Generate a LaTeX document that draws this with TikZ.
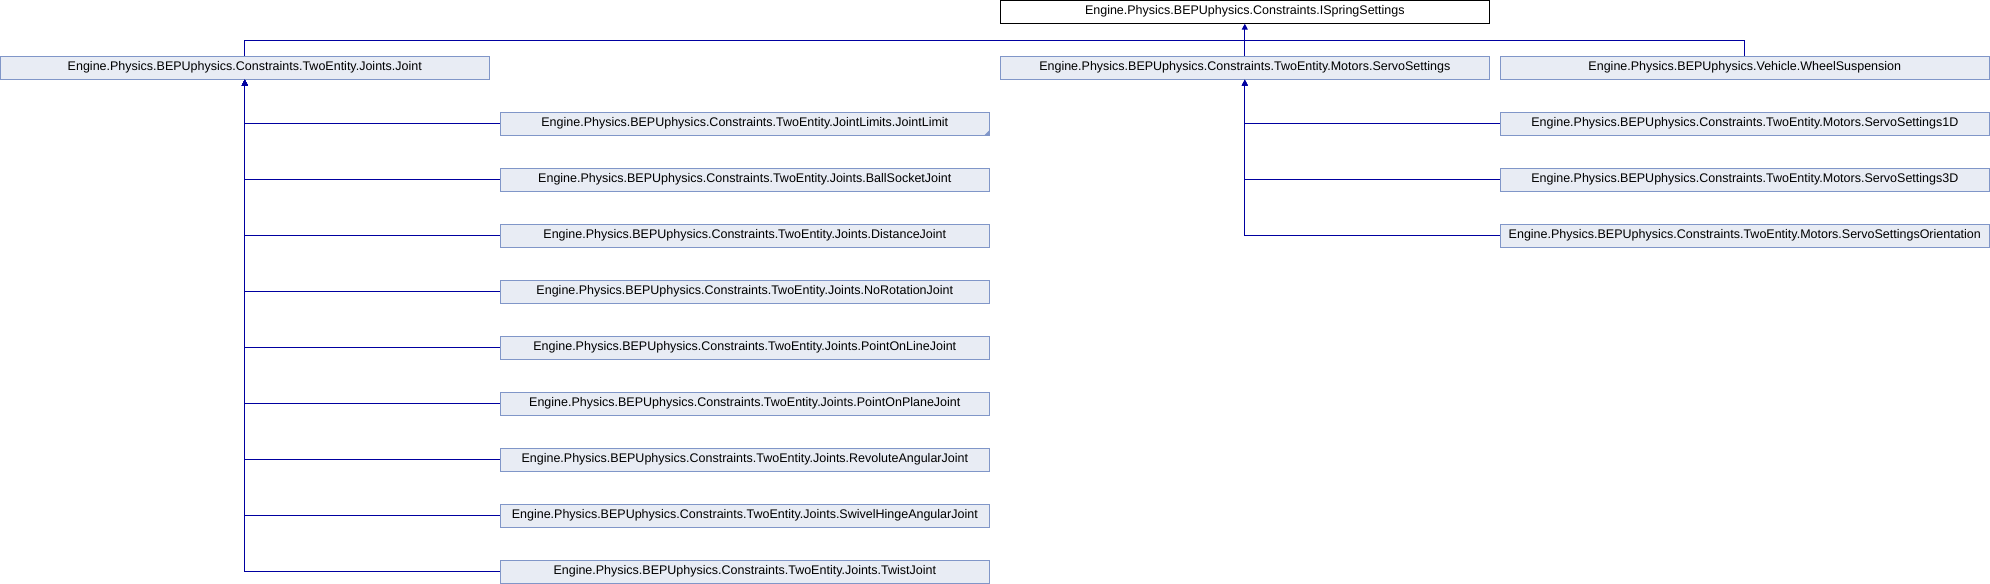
\documentclass[tikz,border=0pt]{standalone}
\usepackage{fontspec}
\setmainfont{Liberation Sans}
\usepackage{tikz}
\usetikzlibrary{arrows.meta, positioning}
\definecolor{boxfill}{RGB}{232,236,244}
\definecolor{boxline}{RGB}{128,150,200}
\definecolor{edgeblue}{RGB}{0,0,160}
\tikzstyle{current} = [rectangle, minimum width=489bp, minimum height=23bp, inner sep=0pt, text centered, draw=black, fill=white, line width=1bp, font=\fontsize{12.5bp}{15bp}\selectfont]
\tikzstyle{cls} = [rectangle, minimum width=489bp, minimum height=23bp, inner sep=0pt, text centered, draw=boxline, fill=boxfill, line width=1bp, font=\fontsize{12.5bp}{15bp}\selectfont]
\tikzstyle{arrow} = [draw=edgeblue, line width=1bp, -{Triangle[width=6bp,length=6bp]}]
\tikzstyle{line} = [draw=edgeblue, line width=1bp]

\begin{document}
\begin{tikzpicture}[x=1bp, y=1bp, node distance=56bp]
		\useasboundingbox (0,0) rectangle (1990,-584);
		\node (spring) [current] at (1244.8,-11.7) {Engine.Physics.BEPUphysics.Constraints.ISpringSettings};
		\node (servo) [cls, below of=spring] {Engine.Physics.BEPUphysics.Constraints.TwoEntity.Motors.ServoSettings};
		\node (joint) [cls, left of=servo, xshift=-944bp] {Engine.Physics.BEPUphysics.Constraints.TwoEntity.Joints.Joint};
		\node (wheel) [cls, right of=servo, xshift=444bp] {Engine.Physics.BEPUphysics.Vehicle.WheelSuspension};

		\node (j1) [cls, below of=joint, xshift=500bp] {Engine.Physics.BEPUphysics.Constraints.TwoEntity.JointLimits.JointLimit};
		\node (j2) [cls, below of=j1] {Engine.Physics.BEPUphysics.Constraints.TwoEntity.Joints.BallSocketJoint};
		\node (j3) [cls, below of=j2] {Engine.Physics.BEPUphysics.Constraints.TwoEntity.Joints.DistanceJoint};
		\node (j4) [cls, below of=j3] {Engine.Physics.BEPUphysics.Constraints.TwoEntity.Joints.NoRotationJoint};
		\node (j5) [cls, below of=j4] {Engine.Physics.BEPUphysics.Constraints.TwoEntity.Joints.PointOnLineJoint};
		\node (j6) [cls, below of=j5] {Engine.Physics.BEPUphysics.Constraints.TwoEntity.Joints.PointOnPlaneJoint};
		\node (j7) [cls, below of=j6] {Engine.Physics.BEPUphysics.Constraints.TwoEntity.Joints.RevoluteAngularJoint};
		\node (j8) [cls, below of=j7] {Engine.Physics.BEPUphysics.Constraints.TwoEntity.Joints.SwivelHingeAngularJoint};
		\node (j9) [cls, below of=j8] {Engine.Physics.BEPUphysics.Constraints.TwoEntity.Joints.TwistJoint};

		\node (s1) [cls, below of=wheel] {Engine.Physics.BEPUphysics.Constraints.TwoEntity.Motors.ServoSettings1D};
		\node (s2) [cls, below of=s1] {Engine.Physics.BEPUphysics.Constraints.TwoEntity.Motors.ServoSettings3D};
		\node (s3) [cls, below of=s2] {Engine.Physics.BEPUphysics.Constraints.TwoEntity.Motors.ServoSettingsOrientation};

		% marker for further subclasses
		\fill [boxline] (j1.south east) -- ++(-6,0) -- ++(6,6) -- cycle;

		\coordinate (bus) at (1244.8,-40.3);
		\draw [line] (joint.north) |- (bus) -| (wheel.north);
		\draw [arrow] (servo.north) -- (spring.south);

		\foreach \c in {j1,j2,j3,j4,j5,j6,j7,j8,j9}
			\draw [arrow] (\c.west) -| (joint.south);
		\foreach \c in {s1,s2,s3}
			\draw [arrow] (\c.west) -| (servo.south);
	\end{tikzpicture}
\end{document}
